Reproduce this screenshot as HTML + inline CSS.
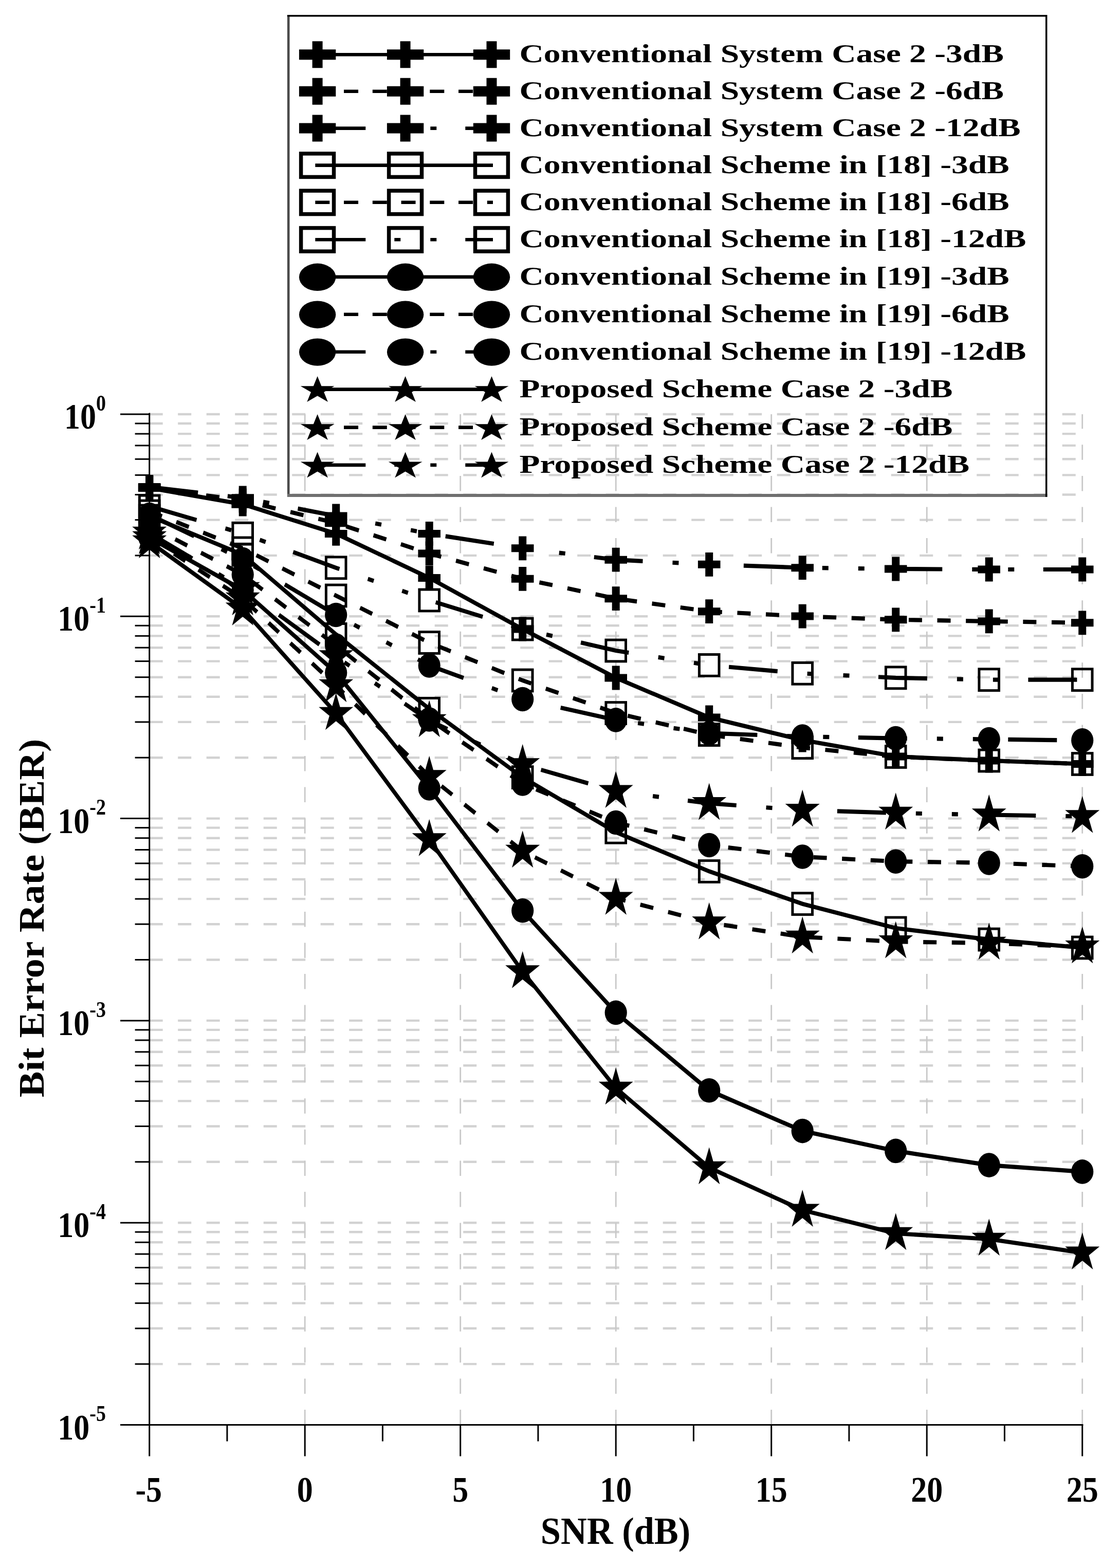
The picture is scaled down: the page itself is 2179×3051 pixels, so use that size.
<!DOCTYPE html>
<html lang="en"><head><meta charset="utf-8"><title>BER vs SNR</title>
<style>html,body{margin:0;padding:0;background:#fff}svg{display:block}text{font-family:"Liberation Serif","DejaVu Serif",serif;font-weight:bold;fill:#000}</style>
</head><body>
<svg width="2179" height="3051" viewBox="0 0 2179 3051">
<rect width="2179" height="3051" fill="#fff"/>
<g stroke="#d2d2d2" stroke-width="4.4" stroke-dasharray="26 29.5" fill="none">
<path d="M290.7 806H2105.7"/>
<path d="M290.7 824H2105.7"/>
<path d="M290.7 844.1H2105.7"/>
<path d="M290.7 866.9H2105.7"/>
<path d="M290.7 893.3H2105.7"/>
<path d="M290.7 924.4H2105.7"/>
<path d="M290.7 962.5H2105.7"/>
<path d="M290.7 1011.6H2105.7"/>
<path d="M290.7 1080.9H2105.7"/>
<path d="M290.7 1199.3H2105.7"/>
<path d="M290.7 1217.3H2105.7"/>
<path d="M290.7 1237.4H2105.7"/>
<path d="M290.7 1260.2H2105.7"/>
<path d="M290.7 1286.6H2105.7"/>
<path d="M290.7 1317.7H2105.7"/>
<path d="M290.7 1355.8H2105.7"/>
<path d="M290.7 1404.9H2105.7"/>
<path d="M290.7 1474.2H2105.7"/>
<path d="M290.7 1592.6H2105.7"/>
<path d="M290.7 1610.6H2105.7"/>
<path d="M290.7 1630.7H2105.7"/>
<path d="M290.7 1653.5H2105.7"/>
<path d="M290.7 1679.9H2105.7"/>
<path d="M290.7 1711H2105.7"/>
<path d="M290.7 1749.1H2105.7"/>
<path d="M290.7 1798.2H2105.7"/>
<path d="M290.7 1867.5H2105.7"/>
<path d="M290.7 1985.9H2105.7"/>
<path d="M290.7 2003.9H2105.7"/>
<path d="M290.7 2024H2105.7"/>
<path d="M290.7 2046.8H2105.7"/>
<path d="M290.7 2073.2H2105.7"/>
<path d="M290.7 2104.3H2105.7"/>
<path d="M290.7 2142.4H2105.7"/>
<path d="M290.7 2191.5H2105.7"/>
<path d="M290.7 2260.8H2105.7"/>
<path d="M290.7 2379.2H2105.7"/>
<path d="M290.7 2397.2H2105.7"/>
<path d="M290.7 2417.3H2105.7"/>
<path d="M290.7 2440.1H2105.7"/>
<path d="M290.7 2466.5H2105.7"/>
<path d="M290.7 2497.6H2105.7"/>
<path d="M290.7 2535.7H2105.7"/>
<path d="M290.7 2584.8H2105.7"/>
<path d="M290.7 2654.1H2105.7"/>
</g>
<g stroke="#c8c8c8" stroke-width="2.8" stroke-dasharray="29.5 31.07" fill="none">
<path d="M593.2 2772.5V806"/>
<path d="M895.7 2772.5V806"/>
<path d="M1198.2 2772.5V806"/>
<path d="M1500.7 2772.5V806"/>
<path d="M1803.2 2772.5V806"/>
<path d="M2105.7 2772.5V806"/>
</g>
<g stroke="#000" stroke-width="3" fill="none">
<path d="M290.7 803.5V2833.5"/>
<path d="M234 2772.5H2107.4"/>
<path d="M593.2 2772.5V2833.5"/>
<path d="M895.7 2772.5V2833.5"/>
<path d="M1198.2 2772.5V2833.5"/>
<path d="M1500.7 2772.5V2833.5"/>
<path d="M1803.2 2772.5V2833.5"/>
<path d="M2105.7 2772.5V2833.5"/>
<path d="M441.9 2772.5V2804.5"/>
<path d="M744.4 2772.5V2804.5"/>
<path d="M1046.9 2772.5V2804.5"/>
<path d="M1349.4 2772.5V2804.5"/>
<path d="M1651.9 2772.5V2804.5"/>
<path d="M1954.4 2772.5V2804.5"/>
<path d="M234 806H290.7"/>
<path d="M262.6 824H290.7"/>
<path d="M262.6 844.1H290.7"/>
<path d="M262.6 866.9H290.7"/>
<path d="M262.6 893.3H290.7"/>
<path d="M262.6 924.4H290.7"/>
<path d="M262.6 962.5H290.7"/>
<path d="M262.6 1011.6H290.7"/>
<path d="M262.6 1080.9H290.7"/>
<path d="M234 1199.3H290.7"/>
<path d="M262.6 1217.3H290.7"/>
<path d="M262.6 1237.4H290.7"/>
<path d="M262.6 1260.2H290.7"/>
<path d="M262.6 1286.6H290.7"/>
<path d="M262.6 1317.7H290.7"/>
<path d="M262.6 1355.8H290.7"/>
<path d="M262.6 1404.9H290.7"/>
<path d="M262.6 1474.2H290.7"/>
<path d="M234 1592.6H290.7"/>
<path d="M262.6 1610.6H290.7"/>
<path d="M262.6 1630.7H290.7"/>
<path d="M262.6 1653.5H290.7"/>
<path d="M262.6 1679.9H290.7"/>
<path d="M262.6 1711H290.7"/>
<path d="M262.6 1749.1H290.7"/>
<path d="M262.6 1798.2H290.7"/>
<path d="M262.6 1867.5H290.7"/>
<path d="M234 1985.9H290.7"/>
<path d="M262.6 2003.9H290.7"/>
<path d="M262.6 2024H290.7"/>
<path d="M262.6 2046.8H290.7"/>
<path d="M262.6 2073.2H290.7"/>
<path d="M262.6 2104.3H290.7"/>
<path d="M262.6 2142.4H290.7"/>
<path d="M262.6 2191.5H290.7"/>
<path d="M262.6 2260.8H290.7"/>
<path d="M234 2379.2H290.7"/>
<path d="M262.6 2397.2H290.7"/>
<path d="M262.6 2417.3H290.7"/>
<path d="M262.6 2440.1H290.7"/>
<path d="M262.6 2466.5H290.7"/>
<path d="M262.6 2497.6H290.7"/>
<path d="M262.6 2535.7H290.7"/>
<path d="M262.6 2584.8H290.7"/>
<path d="M262.6 2654.1H290.7"/>
</g>
<g fill="#000" stroke="none">
<polyline transform="scale(1 1.09)" points="290.7,871.10 472.2,900.18 653.7,952.66 835.2,1031.56 1016.7,1122.94 1198.2,1210.09 1379.7,1280.73 1561.2,1321.10 1742.7,1350.46 1924.2,1357.80 2105.7,1363.76" fill="none" stroke="#000" stroke-width="7.5"/>
<path d="M283.2 926.1h15v15.9h14.3v15h-14.3v15.9h-15v-15.9h-14.3v-15h14.3z"/>
<path d="M464.7 957.8h15v15.9h14.3v15h-14.3v15.9h-15v-15.9h-14.3v-15h14.3z"/>
<path d="M646.2 1015h15v15.9h14.3v15h-14.3v15.9h-15v-15.9h-14.3v-15h14.3z"/>
<path d="M827.7 1101h15v15.9h14.3v15h-14.3v15.9h-15v-15.9h-14.3v-15h14.3z"/>
<path d="M1009.2 1200.6h15v15.9h14.3v15h-14.3v15.9h-15v-15.9h-14.3v-15h14.3z"/>
<path d="M1190.7 1295.6h15v15.9h14.3v15h-14.3v15.9h-15v-15.9h-14.3v-15h14.3z"/>
<path d="M1372.2 1372.6h15v15.9h14.3v15h-14.3v15.9h-15v-15.9h-14.3v-15h14.3z"/>
<path d="M1553.7 1416.6h15v15.9h14.3v15h-14.3v15.9h-15v-15.9h-14.3v-15h14.3z"/>
<path d="M1735.2 1448.6h15v15.9h14.3v15h-14.3v15.9h-15v-15.9h-14.3v-15h14.3z"/>
<path d="M1916.7 1456.6h15v15.9h14.3v15h-14.3v15.9h-15v-15.9h-14.3v-15h14.3z"/>
<path d="M2098.2 1463.1h15v15.9h14.3v15h-14.3v15.9h-15v-15.9h-14.3v-15h14.3z"/>
</g>
<g fill="#000" stroke="none">
<polyline transform="scale(1 1.09)" points="290.7,870.18 472.2,893.58 653.7,933.67 835.2,988.07 1016.7,1033.30 1198.2,1068.53 1379.7,1091.47 1561.2,1100.09 1742.7,1106.24 1924.2,1109.08 2105.7,1111.74" fill="none" stroke="#000" stroke-width="7.5" stroke-dasharray="26 29.62"/>
<path d="M283.2 925.1h15v15.9h14.3v15h-14.3v15.9h-15v-15.9h-14.3v-15h14.3z"/>
<path d="M464.7 950.6h15v15.9h14.3v15h-14.3v15.9h-15v-15.9h-14.3v-15h14.3z"/>
<path d="M646.2 994.3h15v15.9h14.3v15h-14.3v15.9h-15v-15.9h-14.3v-15h14.3z"/>
<path d="M827.7 1053.6h15v15.9h14.3v15h-14.3v15.9h-15v-15.9h-14.3v-15h14.3z"/>
<path d="M1009.2 1102.9h15v15.9h14.3v15h-14.3v15.9h-15v-15.9h-14.3v-15h14.3z"/>
<path d="M1190.7 1141.3h15v15.9h14.3v15h-14.3v15.9h-15v-15.9h-14.3v-15h14.3z"/>
<path d="M1372.2 1166.3h15v15.9h14.3v15h-14.3v15.9h-15v-15.9h-14.3v-15h14.3z"/>
<path d="M1553.7 1175.7h15v15.9h14.3v15h-14.3v15.9h-15v-15.9h-14.3v-15h14.3z"/>
<path d="M1735.2 1182.4h15v15.9h14.3v15h-14.3v15.9h-15v-15.9h-14.3v-15h14.3z"/>
<path d="M1916.7 1185.5h15v15.9h14.3v15h-14.3v15.9h-15v-15.9h-14.3v-15h14.3z"/>
<path d="M2098.2 1188.4h15v15.9h14.3v15h-14.3v15.9h-15v-15.9h-14.3v-15h14.3z"/>
</g>
<g fill="#000" stroke="none">
<polyline transform="scale(1 1.09)" points="290.7,869.27 472.2,888.81 653.7,921.10 835.2,952.66 1016.7,978.72 1198.2,999.27 1379.7,1007.61 1561.2,1013.49 1742.7,1015.60 1924.2,1016.51 2105.7,1016.51" fill="none" stroke="#000" stroke-width="7.5" stroke-dasharray="95 58 12 58 12 56.5"/>
<path d="M283.2 924.1h15v15.9h14.3v15h-14.3v15.9h-15v-15.9h-14.3v-15h14.3z"/>
<path d="M464.7 945.4h15v15.9h14.3v15h-14.3v15.9h-15v-15.9h-14.3v-15h14.3z"/>
<path d="M646.2 980.6h15v15.9h14.3v15h-14.3v15.9h-15v-15.9h-14.3v-15h14.3z"/>
<path d="M827.7 1015h15v15.9h14.3v15h-14.3v15.9h-15v-15.9h-14.3v-15h14.3z"/>
<path d="M1009.2 1043.4h15v15.9h14.3v15h-14.3v15.9h-15v-15.9h-14.3v-15h14.3z"/>
<path d="M1190.7 1065.8h15v15.9h14.3v15h-14.3v15.9h-15v-15.9h-14.3v-15h14.3z"/>
<path d="M1372.2 1074.9h15v15.9h14.3v15h-14.3v15.9h-15v-15.9h-14.3v-15h14.3z"/>
<path d="M1553.7 1081.3h15v15.9h14.3v15h-14.3v15.9h-15v-15.9h-14.3v-15h14.3z"/>
<path d="M1735.2 1083.6h15v15.9h14.3v15h-14.3v15.9h-15v-15.9h-14.3v-15h14.3z"/>
<path d="M1916.7 1084.6h15v15.9h14.3v15h-14.3v15.9h-15v-15.9h-14.3v-15h14.3z"/>
<path d="M2098.2 1084.6h15v15.9h14.3v15h-14.3v15.9h-15v-15.9h-14.3v-15h14.3z"/>
</g>
<g fill="#000" stroke="none">
<polyline transform="scale(1 1.09)" points="290.7,921.10 472.2,990.18 653.7,1132.48 835.2,1265.41 1016.7,1387.71 1198.2,1485.60 1379.7,1555.50 1561.2,1613.49 1742.7,1656.88 1924.2,1677.16 2105.7,1691.74" fill="none" stroke="#000" stroke-width="7.5"/>
<rect x="271.4" y="983.1" width="38.6" height="41.8" fill="none" stroke="#000" stroke-width="5"/>
<rect x="452.9" y="1058.4" width="38.6" height="41.8" fill="none" stroke="#000" stroke-width="5"/>
<rect x="634.4" y="1213.5" width="38.6" height="41.8" fill="none" stroke="#000" stroke-width="5"/>
<rect x="815.9" y="1358.4" width="38.6" height="41.8" fill="none" stroke="#000" stroke-width="5"/>
<rect x="997.4" y="1491.7" width="38.6" height="41.8" fill="none" stroke="#000" stroke-width="5"/>
<rect x="1178.9" y="1598.4" width="38.6" height="41.8" fill="none" stroke="#000" stroke-width="5"/>
<rect x="1360.4" y="1674.6" width="38.6" height="41.8" fill="none" stroke="#000" stroke-width="5"/>
<rect x="1541.9" y="1737.8" width="38.6" height="41.8" fill="none" stroke="#000" stroke-width="5"/>
<rect x="1723.4" y="1785.1" width="38.6" height="41.8" fill="none" stroke="#000" stroke-width="5"/>
<rect x="1904.9" y="1807.2" width="38.6" height="41.8" fill="none" stroke="#000" stroke-width="5"/>
<rect x="2086.4" y="1823.1" width="38.6" height="41.8" fill="none" stroke="#000" stroke-width="5"/>
</g>
<g fill="#000" stroke="none">
<polyline transform="scale(1 1.09)" points="290.7,912.84 472.2,978.81 653.7,1063.30 835.2,1147.25 1016.7,1214.68 1198.2,1272.94 1379.7,1311.56 1561.2,1334.59 1742.7,1350.92 1924.2,1357.80 2105.7,1363.76" fill="none" stroke="#000" stroke-width="7.5" stroke-dasharray="26 29.62"/>
<rect x="271.4" y="974.1" width="38.6" height="41.8" fill="none" stroke="#000" stroke-width="5"/>
<rect x="452.9" y="1046" width="38.6" height="41.8" fill="none" stroke="#000" stroke-width="5"/>
<rect x="634.4" y="1138.1" width="38.6" height="41.8" fill="none" stroke="#000" stroke-width="5"/>
<rect x="815.9" y="1229.6" width="38.6" height="41.8" fill="none" stroke="#000" stroke-width="5"/>
<rect x="997.4" y="1303.1" width="38.6" height="41.8" fill="none" stroke="#000" stroke-width="5"/>
<rect x="1178.9" y="1366.6" width="38.6" height="41.8" fill="none" stroke="#000" stroke-width="5"/>
<rect x="1360.4" y="1408.7" width="38.6" height="41.8" fill="none" stroke="#000" stroke-width="5"/>
<rect x="1541.9" y="1433.8" width="38.6" height="41.8" fill="none" stroke="#000" stroke-width="5"/>
<rect x="1723.4" y="1451.6" width="38.6" height="41.8" fill="none" stroke="#000" stroke-width="5"/>
<rect x="1904.9" y="1459.1" width="38.6" height="41.8" fill="none" stroke="#000" stroke-width="5"/>
<rect x="2086.4" y="1465.6" width="38.6" height="41.8" fill="none" stroke="#000" stroke-width="5"/>
</g>
<g fill="#000" stroke="none">
<polyline transform="scale(1 1.09)" points="290.7,903.67 472.2,952.48 653.7,1013.58 835.2,1071.56 1016.7,1123.03 1198.2,1161.47 1379.7,1187.52 1561.2,1202.11 1742.7,1209.91 1924.2,1213.49 2105.7,1213.49" fill="none" stroke="#000" stroke-width="7.5" stroke-dasharray="95 58 12 58 12 56.5"/>
<rect x="271.4" y="964.1" width="38.6" height="41.8" fill="none" stroke="#000" stroke-width="5"/>
<rect x="452.9" y="1017.3" width="38.6" height="41.8" fill="none" stroke="#000" stroke-width="5"/>
<rect x="634.4" y="1083.9" width="38.6" height="41.8" fill="none" stroke="#000" stroke-width="5"/>
<rect x="815.9" y="1147.1" width="38.6" height="41.8" fill="none" stroke="#000" stroke-width="5"/>
<rect x="997.4" y="1203.2" width="38.6" height="41.8" fill="none" stroke="#000" stroke-width="5"/>
<rect x="1178.9" y="1245.1" width="38.6" height="41.8" fill="none" stroke="#000" stroke-width="5"/>
<rect x="1360.4" y="1273.5" width="38.6" height="41.8" fill="none" stroke="#000" stroke-width="5"/>
<rect x="1541.9" y="1289.4" width="38.6" height="41.8" fill="none" stroke="#000" stroke-width="5"/>
<rect x="1723.4" y="1297.9" width="38.6" height="41.8" fill="none" stroke="#000" stroke-width="5"/>
<rect x="1904.9" y="1301.8" width="38.6" height="41.8" fill="none" stroke="#000" stroke-width="5"/>
<rect x="2086.4" y="1301.8" width="38.6" height="41.8" fill="none" stroke="#000" stroke-width="5"/>
</g>
<g fill="#000" stroke="none">
<polyline transform="scale(1 1.09)" points="290.7,959.63 472.2,1053.21 653.7,1200.92 835.2,1407.34 1016.7,1625.50 1198.2,1807.71 1379.7,1946.61 1561.2,2018.90 1742.7,2054.50 1924.2,2079.91 2105.7,2091.65" fill="none" stroke="#000" stroke-width="7.5"/>
<ellipse cx="290.7" cy="1046" rx="21.6" ry="23.8"/>
<ellipse cx="472.2" cy="1148" rx="21.6" ry="23.8"/>
<ellipse cx="653.7" cy="1309" rx="21.6" ry="23.8"/>
<ellipse cx="835.2" cy="1534" rx="21.6" ry="23.8"/>
<ellipse cx="1016.7" cy="1771.8" rx="21.6" ry="23.8"/>
<ellipse cx="1198.2" cy="1970.4" rx="21.6" ry="23.8"/>
<ellipse cx="1379.7" cy="2121.8" rx="21.6" ry="23.8"/>
<ellipse cx="1561.2" cy="2200.6" rx="21.6" ry="23.8"/>
<ellipse cx="1742.7" cy="2239.4" rx="21.6" ry="23.8"/>
<ellipse cx="1924.2" cy="2267.1" rx="21.6" ry="23.8"/>
<ellipse cx="2105.7" cy="2279.9" rx="21.6" ry="23.8"/>
</g>
<g fill="#000" stroke="none">
<polyline transform="scale(1 1.09)" points="290.7,938.53 472.2,1025.69 653.7,1152.29 835.2,1284.40 1016.7,1398.99 1198.2,1468.35 1379.7,1508.72 1561.2,1529.36 1742.7,1537.80 1924.2,1540.37 2105.7,1546.51" fill="none" stroke="#000" stroke-width="7.5" stroke-dasharray="26 29.62"/>
<ellipse cx="290.7" cy="1023" rx="21.6" ry="23.8"/>
<ellipse cx="472.2" cy="1118" rx="21.6" ry="23.8"/>
<ellipse cx="653.7" cy="1256" rx="21.6" ry="23.8"/>
<ellipse cx="835.2" cy="1400" rx="21.6" ry="23.8"/>
<ellipse cx="1016.7" cy="1524.9" rx="21.6" ry="23.8"/>
<ellipse cx="1198.2" cy="1600.5" rx="21.6" ry="23.8"/>
<ellipse cx="1379.7" cy="1644.5" rx="21.6" ry="23.8"/>
<ellipse cx="1561.2" cy="1667" rx="21.6" ry="23.8"/>
<ellipse cx="1742.7" cy="1676.2" rx="21.6" ry="23.8"/>
<ellipse cx="1924.2" cy="1679" rx="21.6" ry="23.8"/>
<ellipse cx="2105.7" cy="1685.7" rx="21.6" ry="23.8"/>
</g>
<g fill="#000" stroke="none">
<polyline transform="scale(1 1.09)" points="290.7,918.81 472.2,998.62 653.7,1097.71 835.2,1188.07 1016.7,1248.17 1198.2,1285.23 1379.7,1308.90 1561.2,1314.77 1742.7,1317.98 1924.2,1319.72 2105.7,1321.74" fill="none" stroke="#000" stroke-width="7.5" stroke-dasharray="95 58 12 58 12 56.5"/>
<ellipse cx="290.7" cy="1001.5" rx="21.6" ry="23.8"/>
<ellipse cx="472.2" cy="1088.5" rx="21.6" ry="23.8"/>
<ellipse cx="653.7" cy="1196.5" rx="21.6" ry="23.8"/>
<ellipse cx="835.2" cy="1295" rx="21.6" ry="23.8"/>
<ellipse cx="1016.7" cy="1360.5" rx="21.6" ry="23.8"/>
<ellipse cx="1198.2" cy="1400.9" rx="21.6" ry="23.8"/>
<ellipse cx="1379.7" cy="1426.7" rx="21.6" ry="23.8"/>
<ellipse cx="1561.2" cy="1433.1" rx="21.6" ry="23.8"/>
<ellipse cx="1742.7" cy="1436.6" rx="21.6" ry="23.8"/>
<ellipse cx="1924.2" cy="1438.5" rx="21.6" ry="23.8"/>
<ellipse cx="2105.7" cy="1440.7" rx="21.6" ry="23.8"/>
</g>
<g fill="#000" stroke="none">
<polyline transform="scale(1 1.09)" points="290.7,966.97 472.2,1087.06 653.7,1273.39 835.2,1498.62 1016.7,1734.40 1198.2,1942.29 1379.7,2084.40 1561.2,2160.28 1742.7,2201.83 1924.2,2211.93 2105.7,2236.51" fill="none" stroke="#000" stroke-width="7.5"/>
<polygon points="290.7,1014.2 298.6,1041.7 324.2,1041.7 303.5,1058.7 311.4,1086.2 290.7,1069.2 270,1086.2 277.9,1058.7 257.2,1041.7 282.8,1041.7"/>
<polygon points="472.2,1145.1 480.1,1172.6 505.7,1172.6 485,1189.6 492.9,1217.1 472.2,1200.1 451.5,1217.1 459.4,1189.6 438.7,1172.6 464.3,1172.6"/>
<polygon points="653.7,1348.2 661.6,1375.7 687.2,1375.7 666.5,1392.7 674.4,1420.2 653.7,1403.2 633,1420.2 640.9,1392.7 620.2,1375.7 645.8,1375.7"/>
<polygon points="835.2,1593.7 843.1,1621.2 868.7,1621.2 848,1638.2 855.9,1665.7 835.2,1648.7 814.5,1665.7 822.4,1638.2 801.7,1621.2 827.3,1621.2"/>
<polygon points="1016.7,1850.7 1024.6,1878.2 1050.2,1878.2 1029.5,1895.2 1037.4,1922.7 1016.7,1905.7 996,1922.7 1003.9,1895.2 983.2,1878.2 1008.8,1878.2"/>
<polygon points="1198.2,2077.3 1206.1,2104.8 1231.7,2104.8 1211,2121.8 1218.9,2149.3 1198.2,2132.3 1177.5,2149.3 1185.4,2121.8 1164.7,2104.8 1190.3,2104.8"/>
<polygon points="1379.7,2232.2 1387.6,2259.7 1413.2,2259.7 1392.5,2276.7 1400.4,2304.2 1379.7,2287.2 1359,2304.2 1366.9,2276.7 1346.2,2259.7 1371.8,2259.7"/>
<polygon points="1561.2,2314.9 1569.1,2342.4 1594.7,2342.4 1574,2359.4 1581.9,2386.9 1561.2,2369.9 1540.5,2386.9 1548.4,2359.4 1527.7,2342.4 1553.3,2342.4"/>
<polygon points="1742.7,2360.2 1750.6,2387.7 1776.2,2387.7 1755.5,2404.7 1763.4,2432.2 1742.7,2415.2 1722,2432.2 1729.9,2404.7 1709.2,2387.7 1734.8,2387.7"/>
<polygon points="1924.2,2371.2 1932.1,2398.7 1957.7,2398.7 1937,2415.7 1944.9,2443.2 1924.2,2426.2 1903.5,2443.2 1911.4,2415.7 1890.7,2398.7 1916.3,2398.7"/>
<polygon points="2105.7,2398 2113.6,2425.5 2139.2,2425.5 2118.5,2442.5 2126.4,2470 2105.7,2453 2085,2470 2092.9,2442.5 2072.2,2425.5 2097.8,2425.5"/>
</g>
<g fill="#000" stroke="none">
<polyline transform="scale(1 1.09)" points="290.7,959.63 472.2,1068.81 653.7,1223.85 835.2,1385.78 1016.7,1519.27 1198.2,1603.39 1379.7,1647.25 1561.2,1672.48 1742.7,1680.92 1924.2,1683.58 2105.7,1690.09" fill="none" stroke="#000" stroke-width="7.5" stroke-dasharray="26 29.62"/>
<polygon points="290.7,1006.2 298.6,1033.7 324.2,1033.7 303.5,1050.7 311.4,1078.2 290.7,1061.2 270,1078.2 277.9,1050.7 257.2,1033.7 282.8,1033.7"/>
<polygon points="472.2,1125.2 480.1,1152.7 505.7,1152.7 485,1169.7 492.9,1197.2 472.2,1180.2 451.5,1197.2 459.4,1169.7 438.7,1152.7 464.3,1152.7"/>
<polygon points="653.7,1294.2 661.6,1321.7 687.2,1321.7 666.5,1338.7 674.4,1366.2 653.7,1349.2 633,1366.2 640.9,1338.7 620.2,1321.7 645.8,1321.7"/>
<polygon points="835.2,1470.7 843.1,1498.2 868.7,1498.2 848,1515.2 855.9,1542.7 835.2,1525.7 814.5,1542.7 822.4,1515.2 801.7,1498.2 827.3,1498.2"/>
<polygon points="1016.7,1616.2 1024.6,1643.7 1050.2,1643.7 1029.5,1660.7 1037.4,1688.2 1016.7,1671.2 996,1688.2 1003.9,1660.7 983.2,1643.7 1008.8,1643.7"/>
<polygon points="1198.2,1707.9 1206.1,1735.4 1231.7,1735.4 1211,1752.4 1218.9,1779.9 1198.2,1762.9 1177.5,1779.9 1185.4,1752.4 1164.7,1735.4 1190.3,1735.4"/>
<polygon points="1379.7,1755.7 1387.6,1783.2 1413.2,1783.2 1392.5,1800.2 1400.4,1827.7 1379.7,1810.7 1359,1827.7 1366.9,1800.2 1346.2,1783.2 1371.8,1783.2"/>
<polygon points="1561.2,1783.2 1569.1,1810.7 1594.7,1810.7 1574,1827.7 1581.9,1855.2 1561.2,1838.2 1540.5,1855.2 1548.4,1827.7 1527.7,1810.7 1553.3,1810.7"/>
<polygon points="1742.7,1792.4 1750.6,1819.9 1776.2,1819.9 1755.5,1836.9 1763.4,1864.4 1742.7,1847.4 1722,1864.4 1729.9,1836.9 1709.2,1819.9 1734.8,1819.9"/>
<polygon points="1924.2,1795.3 1932.1,1822.8 1957.7,1822.8 1937,1839.8 1944.9,1867.3 1924.2,1850.3 1903.5,1867.3 1911.4,1839.8 1890.7,1822.8 1916.3,1822.8"/>
<polygon points="2105.7,1802.4 2113.6,1829.9 2139.2,1829.9 2118.5,1846.9 2126.4,1874.4 2105.7,1857.4 2085,1874.4 2092.9,1846.9 2072.2,1829.9 2097.8,1829.9"/>
</g>
<g fill="#000" stroke="none">
<polyline transform="scale(1 1.09)" points="290.7,951.38 472.2,1050.46 653.7,1172.02 835.2,1286.24 1016.7,1364.68 1198.2,1412.66 1379.7,1434.13 1561.2,1446.15 1742.7,1451.38 1924.2,1454.59 2105.7,1457.34" fill="none" stroke="#000" stroke-width="7.5" stroke-dasharray="95 58 12 58 12 56.5"/>
<polygon points="290.7,997.2 298.6,1024.7 324.2,1024.7 303.5,1041.7 311.4,1069.2 290.7,1052.2 270,1069.2 277.9,1041.7 257.2,1024.7 282.8,1024.7"/>
<polygon points="472.2,1105.2 480.1,1132.7 505.7,1132.7 485,1149.7 492.9,1177.2 472.2,1160.2 451.5,1177.2 459.4,1149.7 438.7,1132.7 464.3,1132.7"/>
<polygon points="653.7,1237.7 661.6,1265.2 687.2,1265.2 666.5,1282.2 674.4,1309.7 653.7,1292.7 633,1309.7 640.9,1282.2 620.2,1265.2 645.8,1265.2"/>
<polygon points="835.2,1362.2 843.1,1389.7 868.7,1389.7 848,1406.7 855.9,1434.2 835.2,1417.2 814.5,1434.2 822.4,1406.7 801.7,1389.7 827.3,1389.7"/>
<polygon points="1016.7,1447.7 1024.6,1475.2 1050.2,1475.2 1029.5,1492.2 1037.4,1519.7 1016.7,1502.7 996,1519.7 1003.9,1492.2 983.2,1475.2 1008.8,1475.2"/>
<polygon points="1198.2,1500 1206.1,1527.5 1231.7,1527.5 1211,1544.5 1218.9,1572 1198.2,1555 1177.5,1572 1185.4,1544.5 1164.7,1527.5 1190.3,1527.5"/>
<polygon points="1379.7,1523.4 1387.6,1550.9 1413.2,1550.9 1392.5,1567.9 1400.4,1595.4 1379.7,1578.4 1359,1595.4 1366.9,1567.9 1346.2,1550.9 1371.8,1550.9"/>
<polygon points="1561.2,1536.5 1569.1,1564 1594.7,1564 1574,1581 1581.9,1608.5 1561.2,1591.5 1540.5,1608.5 1548.4,1581 1527.7,1564 1553.3,1564"/>
<polygon points="1742.7,1542.2 1750.6,1569.7 1776.2,1569.7 1755.5,1586.7 1763.4,1614.2 1742.7,1597.2 1722,1614.2 1729.9,1586.7 1709.2,1569.7 1734.8,1569.7"/>
<polygon points="1924.2,1545.7 1932.1,1573.2 1957.7,1573.2 1937,1590.2 1944.9,1617.7 1924.2,1600.7 1903.5,1617.7 1911.4,1590.2 1890.7,1573.2 1916.3,1573.2"/>
<polygon points="2105.7,1548.7 2113.6,1576.2 2139.2,1576.2 2118.5,1593.2 2126.4,1620.7 2105.7,1603.7 2085,1620.7 2092.9,1593.2 2072.2,1576.2 2097.8,1576.2"/>
</g>
<path d="M561.2 29V967" fill="none" stroke="#4a4a4a" stroke-width="4.6"/>
<path d="M558.9 964H2037.4" fill="none" stroke="#707070" stroke-width="6"/>
<path d="M558.9 30.7H2035.7V967" fill="none" stroke="#000" stroke-width="3.5"/>
<g fill="#000" stroke="none">
<path d="M613.3 106.2H959" fill="none" stroke="#000" stroke-width="6.6"/>
<path d="M607.6 80.2h20v16h25.7v20h-25.7v16h-20v-16h-25.7v-20h25.7z"/>
<path d="M778.6 80.2h20v16h25.7v20h-25.7v16h-20v-16h-25.7v-20h25.7z"/>
<path d="M946.5 80.2h20v16h25.7v20h-25.7v16h-20v-16h-25.7v-20h25.7z"/>
</g>
<text transform="translate(1010.5 121.2) scale(1.272 1)" font-size="51.5">Conventional System Case 2 -3dB</text>
<g fill="#000" stroke="none">
<path d="M613.3 177.8H959" fill="none" stroke="#000" stroke-width="6.6" stroke-dasharray="28 27.75"/>
<path d="M607.6 151.8h20v16h25.7v20h-25.7v16h-20v-16h-25.7v-20h25.7z"/>
<path d="M778.6 151.8h20v16h25.7v20h-25.7v16h-20v-16h-25.7v-20h25.7z"/>
<path d="M946.5 151.8h20v16h25.7v20h-25.7v16h-20v-16h-25.7v-20h25.7z"/>
</g>
<text transform="translate(1010.5 192.8) scale(1.272 1)" font-size="51.5">Conventional System Case 2 -6dB</text>
<g fill="#000" stroke="none">
<path d="M613.3 249.6H959" fill="none" stroke="#000" stroke-width="6.6" stroke-dasharray="98 56 12 58 12 56"/>
<path d="M607.6 223.6h20v16h25.7v20h-25.7v16h-20v-16h-25.7v-20h25.7z"/>
<path d="M778.6 223.6h20v16h25.7v20h-25.7v16h-20v-16h-25.7v-20h25.7z"/>
<path d="M946.5 223.6h20v16h25.7v20h-25.7v16h-20v-16h-25.7v-20h25.7z"/>
</g>
<text transform="translate(1010.5 264.6) scale(1.272 1)" font-size="51.5">Conventional System Case 2 -12dB</text>
<g fill="#000" stroke="none">
<path d="M613.3 321.6H959" fill="none" stroke="#000" stroke-width="6.6"/>
<rect x="585.6" y="298.9" width="63.9" height="45.5" fill="none" stroke="#000" stroke-width="7.5"/>
<rect x="756.6" y="298.9" width="63.9" height="45.5" fill="none" stroke="#000" stroke-width="7.5"/>
<rect x="924.5" y="298.9" width="63.9" height="45.5" fill="none" stroke="#000" stroke-width="7.5"/>
</g>
<text transform="translate(1010.5 336.6) scale(1.272 1)" font-size="51.5">Conventional Scheme in [18] -3dB</text>
<g fill="#000" stroke="none">
<path d="M613.3 393.8H959" fill="none" stroke="#000" stroke-width="6.6" stroke-dasharray="28 27.75"/>
<rect x="585.6" y="371.1" width="63.9" height="45.5" fill="none" stroke="#000" stroke-width="7.5"/>
<rect x="756.6" y="371.1" width="63.9" height="45.5" fill="none" stroke="#000" stroke-width="7.5"/>
<rect x="924.5" y="371.1" width="63.9" height="45.5" fill="none" stroke="#000" stroke-width="7.5"/>
</g>
<text transform="translate(1010.5 408.8) scale(1.272 1)" font-size="51.5">Conventional Scheme in [18] -6dB</text>
<g fill="#000" stroke="none">
<path d="M613.3 466.3H959" fill="none" stroke="#000" stroke-width="6.6" stroke-dasharray="98 56 12 58 12 56"/>
<rect x="585.6" y="443.6" width="63.9" height="45.5" fill="none" stroke="#000" stroke-width="7.5"/>
<rect x="756.6" y="443.6" width="63.9" height="45.5" fill="none" stroke="#000" stroke-width="7.5"/>
<rect x="924.5" y="443.6" width="63.9" height="45.5" fill="none" stroke="#000" stroke-width="7.5"/>
</g>
<text transform="translate(1010.5 481.3) scale(1.272 1)" font-size="51.5">Conventional Scheme in [18] -12dB</text>
<g fill="#000" stroke="none">
<path d="M613.3 538.9H959" fill="none" stroke="#000" stroke-width="6.6"/>
<ellipse cx="617.6" cy="539.3" rx="35.7" ry="26.7"/>
<ellipse cx="788.6" cy="539.3" rx="35.7" ry="26.7"/>
<ellipse cx="956.5" cy="539.3" rx="35.7" ry="26.7"/>
</g>
<text transform="translate(1010.5 553.9) scale(1.272 1)" font-size="51.5">Conventional Scheme in [19] -3dB</text>
<g fill="#000" stroke="none">
<path d="M613.3 611.8H959" fill="none" stroke="#000" stroke-width="6.6" stroke-dasharray="28 27.75"/>
<ellipse cx="617.6" cy="612.2" rx="35.7" ry="26.7"/>
<ellipse cx="788.6" cy="612.2" rx="35.7" ry="26.7"/>
<ellipse cx="956.5" cy="612.2" rx="35.7" ry="26.7"/>
</g>
<text transform="translate(1010.5 626.8) scale(1.272 1)" font-size="51.5">Conventional Scheme in [19] -6dB</text>
<g fill="#000" stroke="none">
<path d="M613.3 684.7H959" fill="none" stroke="#000" stroke-width="6.6" stroke-dasharray="98 56 12 58 12 56"/>
<ellipse cx="617.6" cy="685.1" rx="35.7" ry="26.7"/>
<ellipse cx="788.6" cy="685.1" rx="35.7" ry="26.7"/>
<ellipse cx="956.5" cy="685.1" rx="35.7" ry="26.7"/>
</g>
<text transform="translate(1010.5 699.7) scale(1.272 1)" font-size="51.5">Conventional Scheme in [19] -12dB</text>
<g fill="#000" stroke="none">
<path d="M613.3 757.6H959" fill="none" stroke="#000" stroke-width="6.6"/>
<polygon points="617.6,732.1 625.4,751.2 650.5,751.2 630.2,763 637.9,782.1 617.6,770.3 597.3,782.1 605,763 584.7,751.2 609.8,751.2"/>
<polygon points="788.6,732.1 796.4,751.2 821.5,751.2 801.2,763 808.9,782.1 788.6,770.3 768.3,782.1 776,763 755.7,751.2 780.8,751.2"/>
<polygon points="956.5,732.1 964.3,751.2 989.4,751.2 969.1,763 976.8,782.1 956.5,770.3 936.2,782.1 943.9,763 923.6,751.2 948.7,751.2"/>
</g>
<text transform="translate(1010.5 772.6) scale(1.272 1)" font-size="51.5">Proposed Scheme Case 2 -3dB</text>
<g fill="#000" stroke="none">
<path d="M613.3 831.6H959" fill="none" stroke="#000" stroke-width="6.6" stroke-dasharray="28 27.75"/>
<polygon points="617.6,806.1 625.4,825.2 650.5,825.2 630.2,837 637.9,856.1 617.6,844.3 597.3,856.1 605,837 584.7,825.2 609.8,825.2"/>
<polygon points="788.6,806.1 796.4,825.2 821.5,825.2 801.2,837 808.9,856.1 788.6,844.3 768.3,856.1 776,837 755.7,825.2 780.8,825.2"/>
<polygon points="956.5,806.1 964.3,825.2 989.4,825.2 969.1,837 976.8,856.1 956.5,844.3 936.2,856.1 943.9,837 923.6,825.2 948.7,825.2"/>
</g>
<text transform="translate(1010.5 846.6) scale(1.272 1)" font-size="51.5">Proposed Scheme Case 2 -6dB</text>
<g fill="#000" stroke="none">
<path d="M613.3 904.9H959" fill="none" stroke="#000" stroke-width="6.6" stroke-dasharray="98 56 12 58 12 56"/>
<polygon points="617.6,879.4 625.4,898.5 650.5,898.5 630.2,910.3 637.9,929.4 617.6,917.6 597.3,929.4 605,910.3 584.7,898.5 609.8,898.5"/>
<polygon points="788.6,879.4 796.4,898.5 821.5,898.5 801.2,910.3 808.9,929.4 788.6,917.6 768.3,929.4 776,910.3 755.7,898.5 780.8,898.5"/>
<polygon points="956.5,879.4 964.3,898.5 989.4,898.5 969.1,910.3 976.8,929.4 956.5,917.6 936.2,929.4 943.9,910.3 923.6,898.5 948.7,898.5"/>
</g>
<text transform="translate(1010.5 919.9) scale(1.272 1)" font-size="51.5">Proposed Scheme Case 2 -12dB</text>
<text transform="translate(289.2 2921.8) scale(1 1.14)" font-size="62" text-anchor="middle">-5</text>
<text transform="translate(593.2 2921.8) scale(1 1.14)" font-size="62" text-anchor="middle">0</text>
<text transform="translate(895.7 2921.8) scale(1 1.14)" font-size="62" text-anchor="middle">5</text>
<text transform="translate(1198.2 2921.8) scale(1 1.14)" font-size="62" text-anchor="middle">10</text>
<text transform="translate(1500.7 2921.8) scale(1 1.14)" font-size="62" text-anchor="middle">15</text>
<text transform="translate(1803.2 2921.8) scale(1 1.14)" font-size="62" text-anchor="middle">20</text>
<text transform="translate(2105.7 2921.8) scale(1 1.14)" font-size="62" text-anchor="middle">25</text>
<text transform="translate(206 834) scale(1 1.14)" font-size="62" text-anchor="end">10<tspan font-size="38" dy="-31">0</tspan></text>
<text transform="translate(206 1227.3) scale(1 1.14)" font-size="62" text-anchor="end">10<tspan font-size="38" dy="-31">-1</tspan></text>
<text transform="translate(206 1620.6) scale(1 1.14)" font-size="62" text-anchor="end">10<tspan font-size="38" dy="-31">-2</tspan></text>
<text transform="translate(206 2013.9) scale(1 1.14)" font-size="62" text-anchor="end">10<tspan font-size="38" dy="-31">-3</tspan></text>
<text transform="translate(206 2407.2) scale(1 1.14)" font-size="62" text-anchor="end">10<tspan font-size="38" dy="-31">-4</tspan></text>
<text transform="translate(206 2800.5) scale(1 1.14)" font-size="62" text-anchor="end">10<tspan font-size="38" dy="-31">-5</tspan></text>
<text transform="translate(1197.5 3003.5) scale(1 1.06)" font-size="70.4" text-anchor="middle">SNR (dB)</text>
<text transform="translate(84.5 1786.5) rotate(-90) scale(1.074 1)" font-size="70.5" text-anchor="middle">Bit Error Rate (BER)</text>
</svg>
</body></html>
